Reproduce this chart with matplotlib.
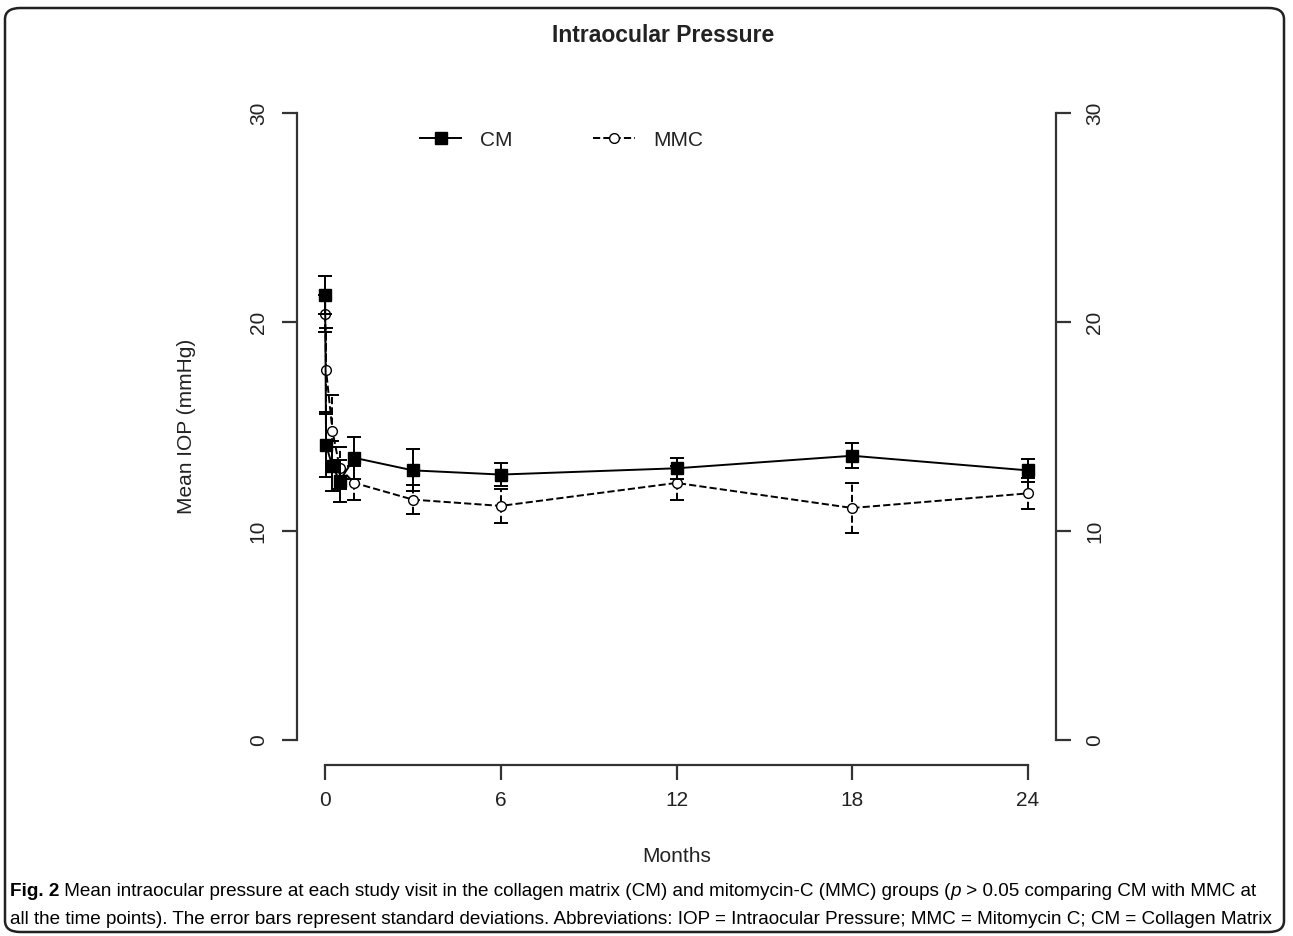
import matplotlib
matplotlib.use('Agg')
import matplotlib.pyplot as plt
from matplotlib.patches import FancyBboxPatch
from matplotlib.lines import Line2D

# visit times in months: pre-op, day 1, week 1, week 2, then months
months = [0, 0.033, 0.25, 0.5, 1, 3, 6, 12, 18, 24]
cm_mean = [21.3, 14.1, 13.1, 12.4, 13.5, 12.9, 12.7, 13.0, 13.6, 12.9]
cm_sd = [0.9, 1.5, 1.2, 1.0, 1.0, 1.0, 0.55, 0.5, 0.6, 0.55]
mmc_mean = [20.4, 17.7, 14.8, 13.0, 12.3, 11.5, 11.2, 12.3, 11.1, 11.8]
mmc_sd = [0.9, 2.0, 1.7, 1.0, 0.8, 0.7, 0.8, 0.8, 1.2, 0.75]

x_ticks = [0, 6, 12, 18, 24]
y_ticks = [0, 10, 20, 30]

title = 'Intraocular Pressure'
x_label = 'Months'
y_label = 'Mean IOP (mmHg)'
caption_bold = 'Fig. 2'
caption_1 = (' Mean intraocular pressure at each study visit in the collagen matrix (CM) and '
             'mitomycin-C (MMC) groups (')
caption_p = 'p'
caption_1b = ' > 0.05 comparing CM with MMC at'
caption_2 = ('all the time points). The error bars represent standard deviations. Abbreviations: '
             'IOP = Intraocular Pressure; MMC = Mitomycin C; CM = Collagen Matrix')

W, H = 1293, 936
fig = plt.figure(figsize=(W / 100, H / 100), dpi=100)
plt.rcParams['font.family'] = ['Liberation Sans', 'DejaVu Sans']

# plot region in pixels (R style, 4% padding)
left, right, bottom, top = 297, 1056, 765, 88
ax = fig.add_axes([left / W, 1 - bottom / H, (right - left) / W, (bottom - top) / H])
ax.set_xlim(-0.96, 24.96)
ax.set_ylim(-1.2, 31.2)

ax.errorbar(months, cm_mean, yerr=cm_sd, color='black', lw=1.4, marker='s', ms=8.5,
            mfc='black', mec='black', capsize=5, elinewidth=1.4, capthick=1.4, zorder=3)
mmc = ax.errorbar(months, mmc_mean, yerr=mmc_sd, color='black', lw=1.4, ls='--', marker='o', ms=7,
                  mfc='white', mec='black', capsize=5, elinewidth=1.4, capthick=1.4, zorder=2)
mmc[2][0].set_linestyle('--')

axis_col = '#333333'
for side in ['left', 'right', 'bottom']:
    ax.spines[side].set_color(axis_col)
    ax.spines[side].set_linewidth(1.6)
ax.spines['top'].set_visible(False)
ax.spines['left'].set_bounds(0, 30)
ax.spines['right'].set_bounds(0, 30)
ax.spines['bottom'].set_bounds(0, 24)

ax.set_xticks(x_ticks)
ax.set_yticks(y_ticks)
ax.tick_params(axis='both', length=11, width=1.6, color=axis_col, labelsize=15, labelcolor='#222222')
ax.tick_params(axis='x', pad=8)
ax.tick_params(axis='y', pad=10, labelrotation=90, right=True, labelright=True)
for lab in ax.get_yticklabels():
    lab.set_verticalalignment('center')

ax.set_xlabel(x_label, fontsize=15, color='#222222', labelpad=26)
ax.set_ylabel(y_label, fontsize=15, color='#222222', labelpad=38)

fig.text(663 / W, 1 - 35 / H, title, fontsize=16.5, fontweight='bold', ha='center', va='center',
         color='#222222')

handles = [Line2D([], [], color='black', lw=1.4, marker='s', ms=8),
           Line2D([], [], color='black', lw=1.4, ls='--', marker='o', ms=7, mfc='white')]
ax.legend(handles, ['CM', 'MMC'], loc='center left', bbox_to_anchor=(0.137, 0.923), ncol=2,
          frameon=False, fontsize=15, handlelength=2.0, columnspacing=3.85, handletextpad=0.9,
          labelcolor='#222222')

# caption below the plot, font size fitted to the line widths
fig.canvas.draw()
renderer = fig.canvas.get_renderer()
x0, x_end = 10, 1280
y1 = 1 - 891 / H
y2 = 1 - 919 / H


def put_line1(fs):
    texts = []
    t = fig.text(x0 / W, y1, caption_bold, fontsize=fs, fontweight='bold', va='center')
    texts.append(t)
    cursor = t.get_window_extent(renderer).x1
    for piece, style in [(caption_1, 'normal'), (caption_p, 'italic'), (caption_1b, 'normal')]:
        t = fig.text(cursor / W, y1, piece, fontsize=fs, style=style, va='center')
        texts.append(t)
        cursor = t.get_window_extent(renderer).x1
    return texts, cursor


texts, end1 = put_line1(12)
for t in texts:
    t.remove()
t2 = fig.text(x0 / W, y2, caption_2, fontsize=12, va='center')
end2 = t2.get_window_extent(renderer).x1
t2.remove()
fs = 12 * (x_end - x0) / (max(end1, end2) - x0)
put_line1(fs)
fig.text(x0 / W, y2, caption_2, fontsize=fs, va='center')

box = FancyBboxPatch((5 / W, 4 / H), 1279 / W, 924 / H, boxstyle='round,pad=0,rounding_size=0.012',
                     transform=fig.transFigure, fill=False, lw=1.8, ec='#222222')
fig.patches.append(box)

fig.savefig('out.png', dpi=100)
